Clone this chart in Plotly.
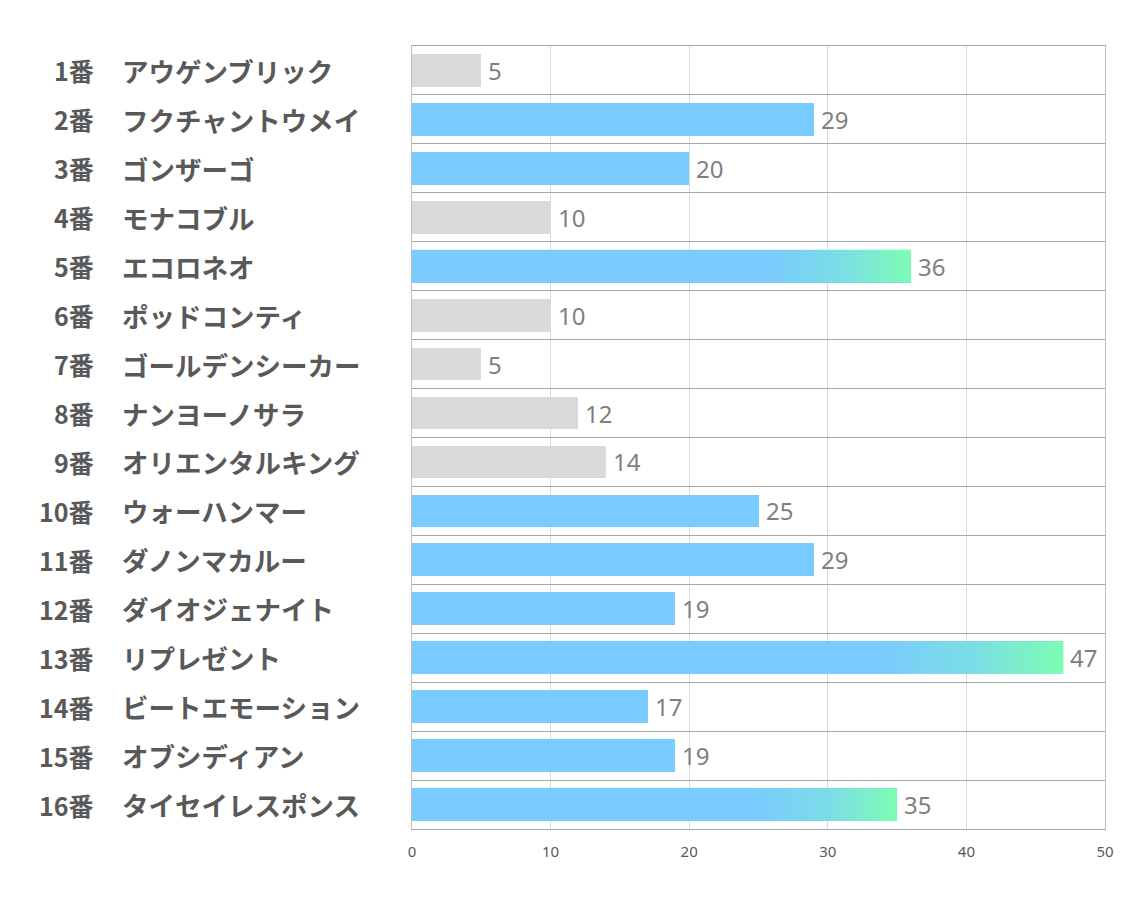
import plotly.graph_objects as go

numbers = ["1番", "2番", "3番", "4番", "5番", "6番", "7番", "8番",
           "9番", "10番", "11番", "12番", "13番", "14番", "15番", "16番"]
names = ["アウゲンブリック", "フクチャントウメイ", "ゴンザーゴ", "モナコブル", "エコロネオ",
         "ポッドコンティ", "ゴールデンシーカー", "ナンヨーノサラ", "オリエンタルキング",
         "ウォーハンマー", "ダノンマカルー", "ダイオジェナイト", "リプレゼント",
         "ビートエモーション", "オブシディアン", "タイセイレスポンス"]
values = [5, 29, 20, 10, 36, 10, 5, 12, 14, 25, 29, 19, 47, 17, 19, 35]
# style group for each horse: "gray", "blue", "grad"
groups = ["gray", "blue", "blue", "gray", "grad", "gray", "gray", "gray",
          "gray", "blue", "blue", "blue", "grad", "blue", "blue", "grad"]
x_ticks = [0, 10, 20, 30, 40, 50]

GRAY = "#D9D9D9"
BLUE = "#7ACBFE"
GREEN = "#7DFDB2"
MID = "#7BDDE6"
BAR_W = 0.67

idx = list(range(len(values)))
bar_colors = [GRAY if g == "gray" else BLUE for g in groups]

fig = go.Figure()
fig.add_trace(go.Bar(
    x=values, y=idx, orientation="h", width=BAR_W,
    marker=dict(color=bar_colors, line=dict(width=0)),
    hoverinfo="skip", showlegend=False,
))

for i, (v, g) in enumerate(zip(values, groups)):
    if g != "grad":
        continue
    y0, y1 = i - BAR_W / 2, i + BAR_W / 2
    fig.add_trace(go.Scatter(
        x=[0, v, v, 0, 0], y=[y0, y0, y1, y1, y0],
        mode="lines", fill="toself", line=dict(width=0),
        fillgradient=dict(type="horizontal", start=0, stop=v,
                          colorscale=[[0, BLUE], [0.71, BLUE], [0.86, MID], [1, GREEN]]),
        hoverinfo="skip", showlegend=False,
    ))

annotations = []
for i, (n, name, v) in enumerate(zip(numbers, names, values)):
    annotations.append(dict(
        x=-0.4560, y=i, xref="paper", yref="y", text=n, showarrow=False,
        xanchor="right", yanchor="middle",
        font=dict(family="Noto Sans CJK JP", size=25, color="#595959", weight="bold"),
    ))
    annotations.append(dict(
        x=-0.4213, y=i, xref="paper", yref="y", text=name, showarrow=False,
        xanchor="left", yanchor="middle",
        font=dict(family="Noto Sans CJK JP", size=26.5, color="#595959", weight="bold"),
    ))
    annotations.append(dict(
        x=v, y=i, xref="x", yref="y", text=str(v), showarrow=False,
        xanchor="left", yanchor="middle", xshift=5,
        font=dict(family="Noto Sans", size=24, color="#7F7F7F"),
    ))

fig.update_layout(
    width=1126, height=899,
    margin=dict(l=404, r=29, t=38, b=78),
    paper_bgcolor="white", plot_bgcolor="white",
    annotations=annotations,
    xaxis=dict(
        range=[0, 50], tickvals=x_ticks, ticktext=[str(t) for t in x_ticks],
        showgrid=True, gridcolor="#D9D9D9", gridwidth=1,
        zeroline=False, showline=True, mirror=True, linecolor="#A6A6A6", linewidth=1,
        ticks="", ticklabelstandoff=9,
        tickfont=dict(family="Noto Sans", size=15, color="#595959"),
    ),
    yaxis=dict(
        range=[15.5, -0.5], tickvals=[k + 0.5 for k in range(-1, 16)],
        showticklabels=False, showgrid=True, gridcolor="#A6A6A6", gridwidth=1,
        zeroline=False, showline=True, mirror=True, linecolor="#BFBFBF", linewidth=1,
        ticks="",
    ),
    bargap=0,
)

fig.write_html("out.html")
